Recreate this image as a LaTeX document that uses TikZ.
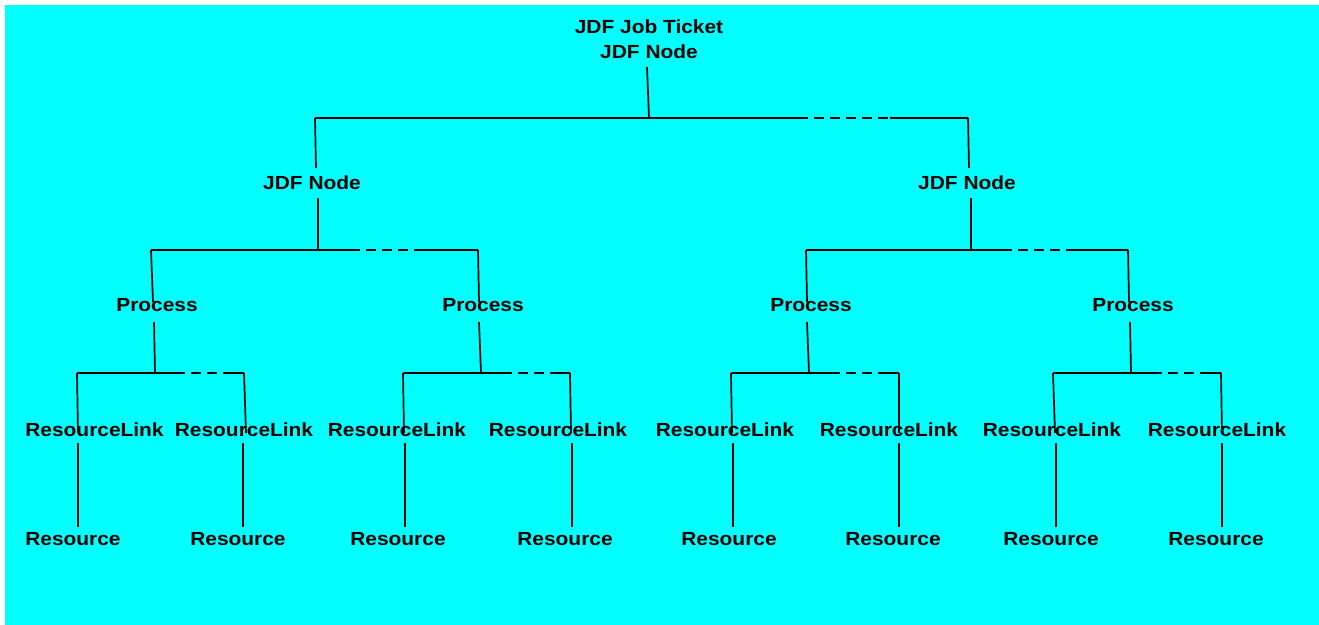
\documentclass[tikz,border=0pt]{standalone}
\usepackage{fontspec}
\setmainfont{Liberation Sans}
\usetikzlibrary{calc}
\definecolor{bgcyan}{HTML}{00FFFF}
\newcommand{\wlbl}[1]{\scalebox{1.1}[1]{#1}}
\tikzset{
  lbl/.style={font=\fontsize{19bp}{25bp}\selectfont\bfseries, inner sep=0pt,
    text height=13.6bp, text depth=0pt, anchor=center},
  toplbl/.style={font=\fontsize{19bp}{25bp}\selectfont\bfseries, inner sep=0pt,
    align=center, anchor=center},
  ln/.style={line width=1.7bp, black},
  dsh/.style={line width=1.7bp, black, dash pattern=on 10bp off 6bp, dash phase=10bp},
}
\begin{document}
\begin{tikzpicture}[x=1bp,y=-1bp]
\useasboundingbox (0,0) rectangle (1319,625);
\fill[white] (0,0) rectangle (1319,625);
\fill[bgcyan] (5,5) rectangle (1319,625);

% ---------- nodes ----------
\node[toplbl] (top) at (649,39.5) {\wlbl{JDF Job Ticket}\\\wlbl{JDF Node}};
\node[lbl] (jn1) at (312,183) {\wlbl{JDF Node}};
\node[lbl] (jn2) at (967,183) {\wlbl{JDF Node}};
\foreach \i/\x in {1/157,2/483,3/811,4/1133}
  \node[lbl] (p\i) at (\x,305) {\wlbl{Process}};
\foreach \i/\x in {1/94.5,2/244,3/397,4/558,5/725,6/889,7/1052,8/1217}
  \node[lbl] (rl\i) at (\x,430) {\wlbl{ResourceLink}};
\foreach \i/\x in {1/73,2/238,3/398,4/565,5/729,6/893,7/1051,8/1216}
  \node[lbl] (rs\i) at (\x,538.5) {\wlbl{Resource}};

% ---------- bars ----------
% level 1
\coordinate (b1l) at (315,118);
\coordinate (b1r) at (968,118);
\coordinate (b1m) at (649,118);
\draw[ln] (b1l) -- (808,118);
\draw[dsh] (808,118) -- (890,118);
\draw[ln] (890,118) -- (b1r);
% level 2
\coordinate (b2al) at (151,250); \coordinate (b2ar) at (478,250); \coordinate (b2am) at (318,250);
\draw[ln] (b2al) -- (360,250); \draw[dsh] (360,250) -- (422,250); \draw[ln] (422,250) -- (b2ar);
\coordinate (b2bl) at (806,250); \coordinate (b2br) at (1128,250); \coordinate (b2bm) at (971,250);
\draw[ln] (b2bl) -- (1012,250); \draw[dsh] (1012,250) -- (1073,250); \draw[ln] (1073,250) -- (b2br);
% level 3
\foreach \n/\l/\m/\da/\db/\r in {1/77/155/185/230/244, 2/403/481/512/550/570,
                                 3/731/809/840/878/899, 4/1053/1131/1162/1200/1221}{
  \coordinate (b3l\n) at (\l,373);
  \coordinate (b3r\n) at (\r,373);
  \coordinate (b3m\n) at (\m,373);
  \draw[ln] (b3l\n) -- (\da,373);
  \draw[dsh] (\da,373) -- (\db,373);
  \draw[ln] (\db,373) -- (b3r\n);
}

% ---------- connectors ----------
\draw[ln] ($(top.center)+(-2,27.5)$) -- (b1m);
\draw[ln] (b1l) -- ($(jn1.center)+(4,-15)$);
\draw[ln] (b1r) -- ($(jn2.center)+(2,-15)$);
\draw[ln] ($(jn1.center)+(6,15)$) -- (b2am);
\draw[ln] ($(jn2.center)+(4,15)$) -- (b2bm);

\draw[ln] (b2al) -- ($(p1.center)+(-4,-3)$);
\draw[ln] (b2ar) -- ($(p2.center)+(-4,-3)$);
\draw[ln] (b2bl) -- ($(p3.center)+(-4,-3)$);
\draw[ln] (b2br) -- ($(p4.center)+(-4,-3)$);
\draw[ln] ($(p1.center)+(-3,17)$) -- (b3m1);
\draw[ln] ($(p2.center)+(-4,17)$) -- (b3m2);
\draw[ln] ($(p3.center)+(-4,17)$) -- (b3m3);
\draw[ln] ($(p4.center)+(-3,17)$) -- (b3m4);

\draw[ln] (b3l1) -- ($(rl1.center)+(-16.5,3)$);
\draw[ln] (b3r1) -- ($(rl2.center)+(2,3)$);
\draw[ln] (b3l2) -- ($(rl3.center)+(7,3)$);
\draw[ln] (b3r2) -- ($(rl4.center)+(13,3)$);
\draw[ln] (b3l3) -- ($(rl5.center)+(7,3)$);
\draw[ln] (b3r3) -- ($(rl6.center)+(10,3)$);
\draw[ln] (b3l4) -- ($(rl7.center)+(3,3)$);
\draw[ln] (b3r4) -- ($(rl8.center)+(5,3)$);

\foreach \i/\ra/\sa in {1/-16.5/5, 2/-1/5, 3/8/7, 4/14/7, 5/8/4, 6/10/6, 7/4/5, 8/5/6}
  \draw[ln] ($(rl\i.center)+(\ra,13)$) -- ($(rs\i.center)+(\sa,-11.5)$);
\end{tikzpicture}
\end{document}
